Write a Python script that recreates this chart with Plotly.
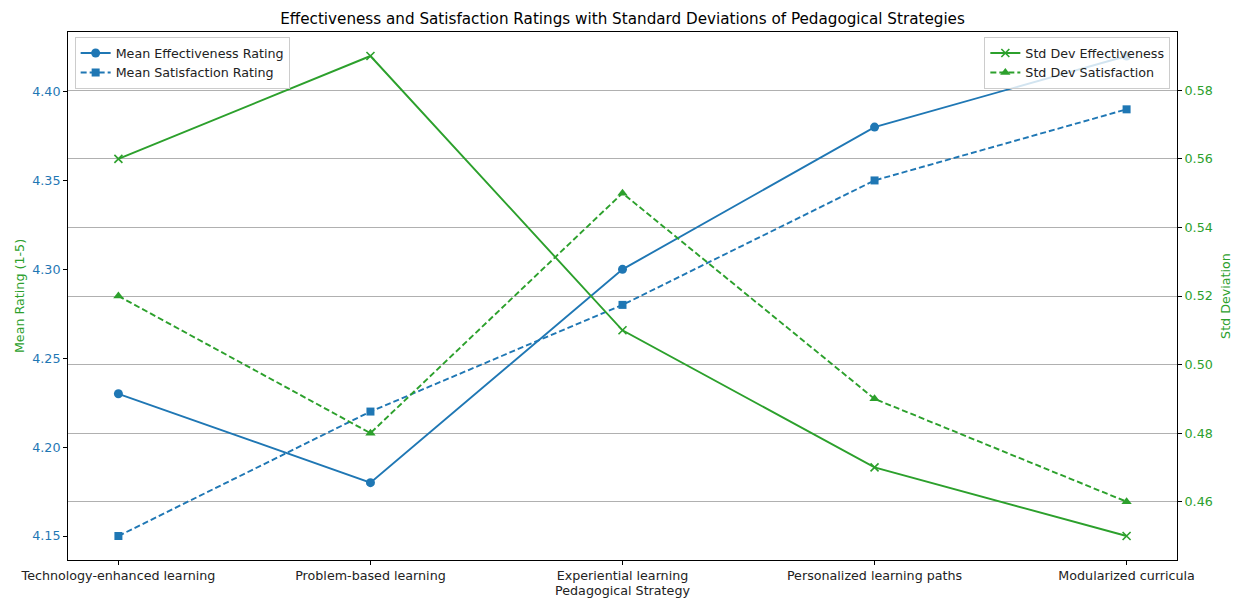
import plotly.graph_objects as go

strategies = ["Technology-enhanced learning", "Problem-based learning", "Experiential learning",
              "Personalized learning paths", "Modularized curricula"]
mean_eff = [4.23, 4.18, 4.30, 4.38, 4.42]
mean_sat = [4.15, 4.22, 4.28, 4.35, 4.39]
std_eff = [0.56, 0.59, 0.51, 0.47, 0.45]
std_sat = [0.52, 0.48, 0.55, 0.49, 0.46]

BLUE = "#1f77b4"
GREEN = "#2ca02c"
FONT = "DejaVu Sans"
TF = 12.7
LW = 1.9
DASH = "6px,3px"

fig = go.Figure()
fig.add_trace(go.Scatter(x=strategies, y=mean_eff, name="Mean Effectiveness Rating", mode="lines+markers",
                         line=dict(color=BLUE, width=LW), marker=dict(symbol="circle", size=9, color=BLUE),
                         yaxis="y", legend="legend"))
fig.add_trace(go.Scatter(x=strategies, y=mean_sat, name="Mean Satisfaction Rating", mode="lines+markers",
                         line=dict(color=BLUE, width=LW, dash=DASH), marker=dict(symbol="square", size=8, color=BLUE),
                         yaxis="y", legend="legend"))
fig.add_trace(go.Scatter(x=strategies, y=std_eff, name="Std Dev Effectiveness", mode="lines+markers",
                         line=dict(color=GREEN, width=LW), marker=dict(symbol="x-thin", size=8, color=GREEN,
                                                                        line=dict(color=GREEN, width=1.6)),
                         yaxis="y2", legend="legend2"))
fig.add_trace(go.Scatter(x=strategies, y=std_sat, name="Std Dev Satisfaction", mode="lines+markers",
                         line=dict(color=GREEN, width=LW, dash=DASH), marker=dict(symbol="triangle-up", size=9, color=GREEN),
                         yaxis="y2", legend="legend2"))

fig.update_layout(
    width=1239, height=600,
    margin=dict(l=68, r=62, t=32, b=40, autoexpand=False),
    paper_bgcolor="white", plot_bgcolor="white",
    font=dict(family=FONT, size=TF, color="#222"),
    title=dict(text="Effectiveness and Satisfaction Ratings with Standard Deviations of Pedagogical Strategies",
               x=(68 + 1177) / 2 / 1239, xanchor="center", y=1 - 19 / 600, yanchor="middle",
               font=dict(size=15.2, color="black")),
    xaxis=dict(range=[-0.2, 4.2], showgrid=False, showline=True, linecolor="black", linewidth=1, mirror=True,
               ticks="outside", ticklen=4, tickcolor="black", automargin=False,
               title=dict(text="Pedagogical Strategy", font=dict(size=TF, color="#222"), standoff=2),
               tickfont=dict(size=TF, color="#222")),
    yaxis=dict(range=[4.1365, 4.4335], tickvals=[4.15, 4.20, 4.25, 4.30, 4.35, 4.40], tickformat=".2f",
               showgrid=False, showline=True, linecolor="black", linewidth=1, mirror=True,
               ticks="outside", ticklen=4, tickcolor="black", zeroline=False, automargin=False,
               tickfont=dict(size=TF, color=BLUE),
               title=dict(text="Mean Rating (1-5)", font=dict(size=TF, color=GREEN), standoff=4)),
    yaxis2=dict(range=[0.443, 0.597], tickvals=[0.46, 0.48, 0.50, 0.52, 0.54, 0.56, 0.58], tickformat=".2f",
                overlaying="y", side="right", showgrid=True, gridcolor="#b0b0b0", gridwidth=1,
                ticks="outside", ticklen=4, tickcolor="black", zeroline=False, automargin=False,
                tickfont=dict(size=TF, color=GREEN),
                title=dict(text="Std Deviation", font=dict(size=TF, color=GREEN), standoff=9)),
    legend=dict(x=0.006, y=0.99, xanchor="left", yanchor="top", bgcolor="rgba(255,255,255,0.8)",
                bordercolor="#cccccc", borderwidth=1, font=dict(size=TF, color="#222"),
                itemwidth=30, tracegroupgap=0),
    legend2=dict(x=0.994, y=0.99, xanchor="right", yanchor="top", bgcolor="rgba(255,255,255,0.8)",
                 bordercolor="#cccccc", borderwidth=1, font=dict(size=TF, color="#222"),
                 itemwidth=30, tracegroupgap=0),
)

fig.write_html("out.html", config={"displayModeBar": False},
               post_script="document.body.style.margin='0';document.body.style.padding='0';")
